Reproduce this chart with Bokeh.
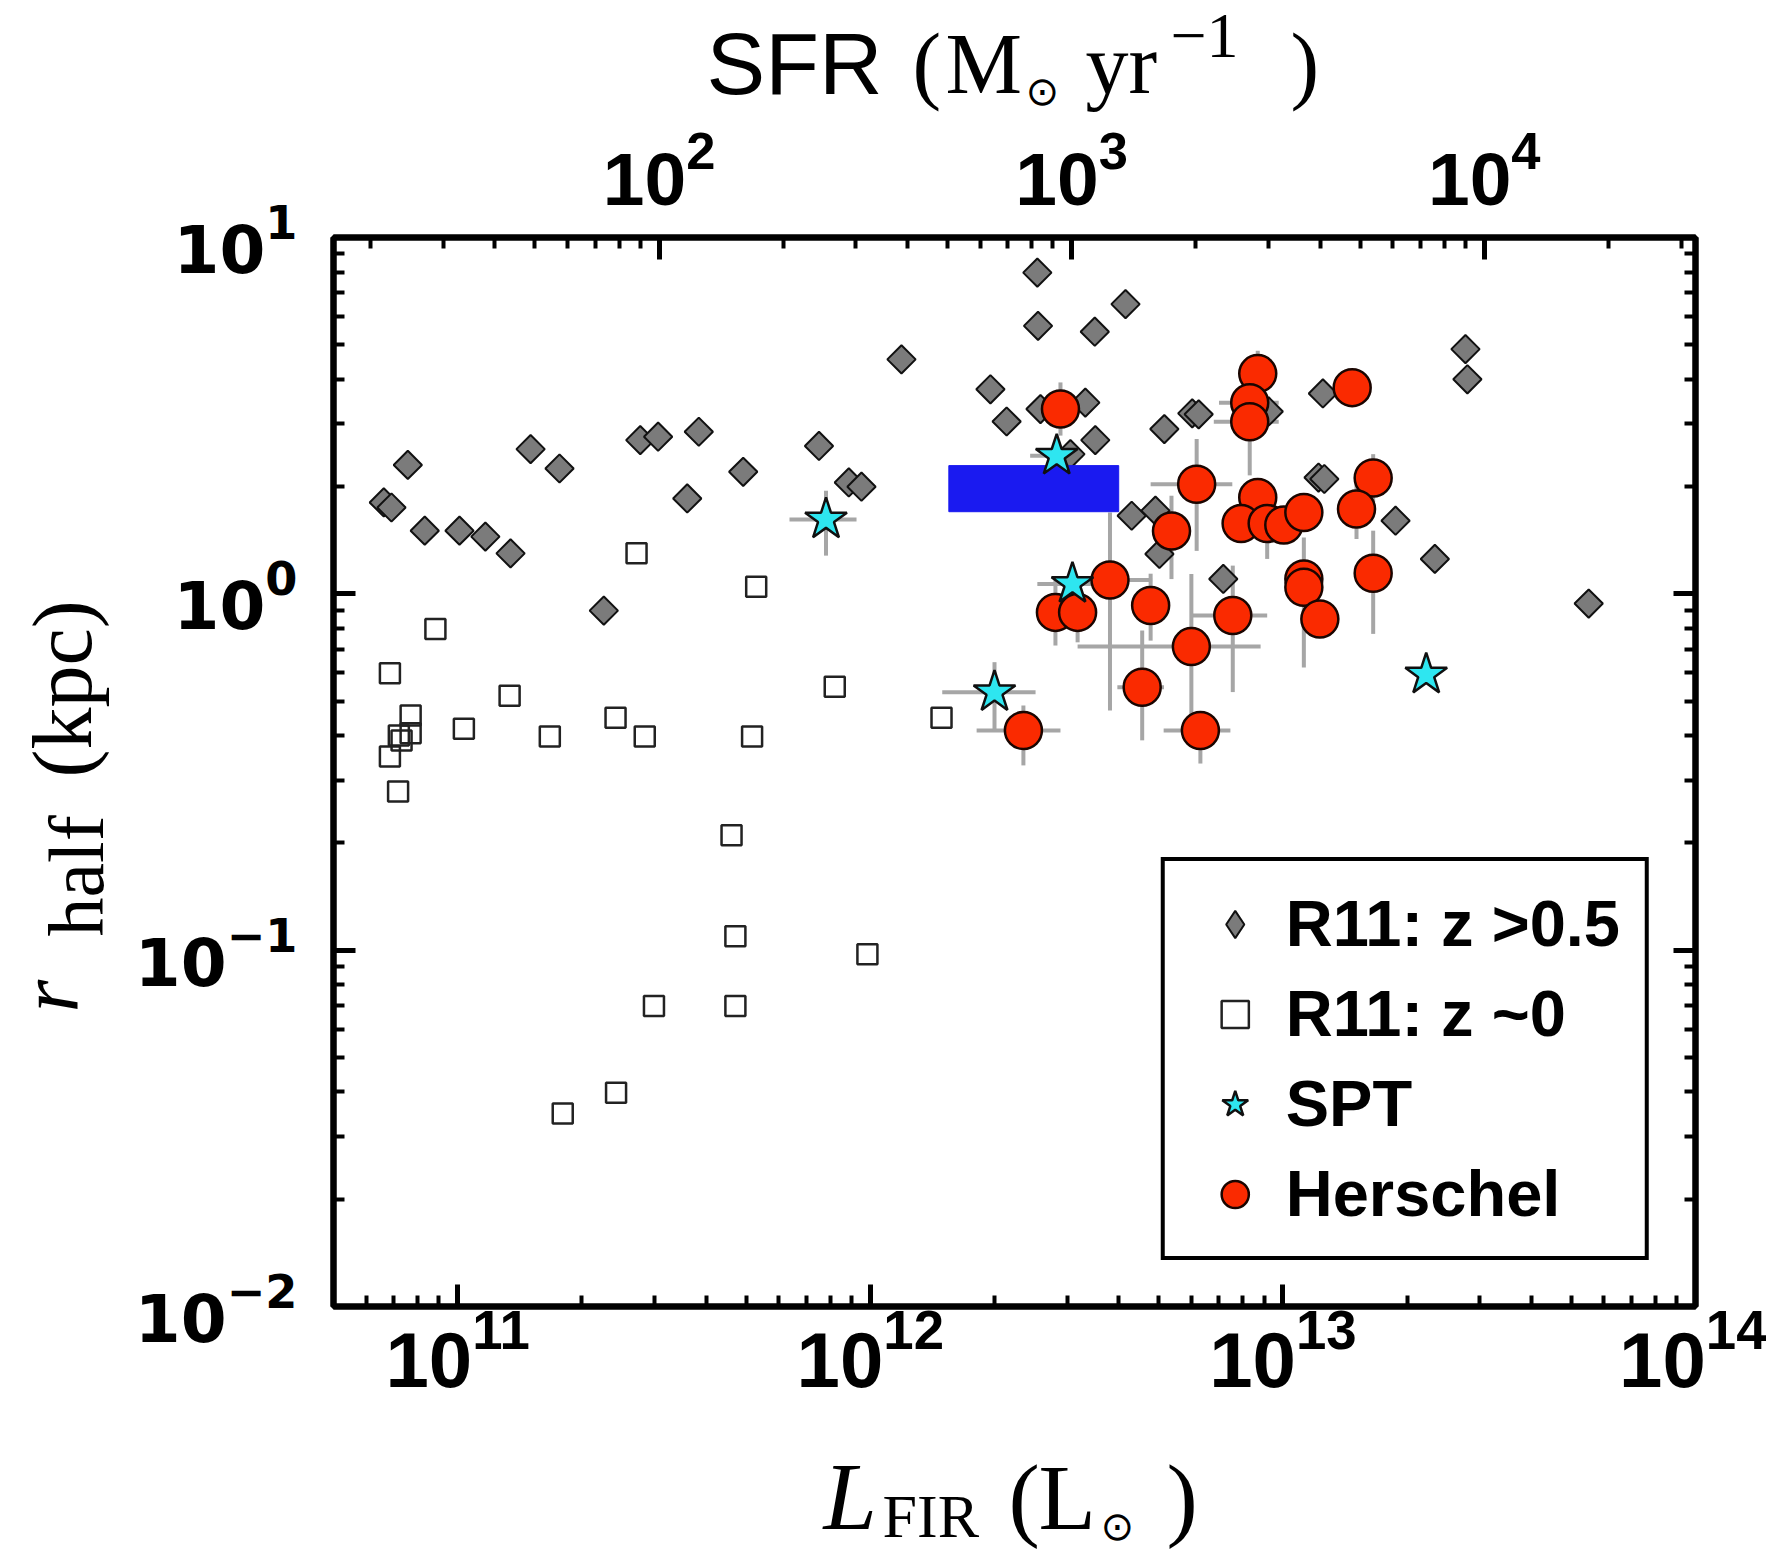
import numpy as np
from bokeh.plotting import figure
from bokeh.layouts import column, row
from bokeh.models import (Range1d, LogAxis, LogScale, LogTicker, Label, Legend, LegendItem,
                          CustomJSTickFormatter)
from bokeh.embed import file_html
from bokeh.resources import INLINE

# ---------------- data ----------------
x_lim = [5e10, 1e14]          # L_FIR (L_sun)
y_lim = [1e-2, 1e1]           # r_half (kpc)
l_per_sfr = 10 ** 9.488       # L_FIR per unit SFR used for the top axis

# R11: z > 0.5 (grey diamonds)
r11_hz_L = [7.57e10, 6.62e10, 6.91e10, 8.32e10, 1.01e11, 1.167e11, 1.343e11, 1.502e11, 1.765e11, 2.26e11,
            2.77e11, 3.06e11, 3.84e11, 3.60e11, 4.92e11, 7.51e11, 8.87e11, 9.52e11, 1.19e12, 1.955e12,
            2.14e12, 2.54e12, 2.55e12, 2.585e12, 3.32e12, 3.50e12, 4.155e12, 3.51e12, 3.055e12, 4.30e12,
            4.91e12, 5.02e12, 5.16e12, 6.03e12, 6.25e12, 7.17e12, 9.24e12, 1.25e13, 1.22e13, 1.26e13,
            1.875e13, 2.335e13, 2.77e13, 2.80e13, 5.51e13]
r11_hz_r = [2.30, 1.805, 1.747, 1.504, 1.504, 1.447, 1.299, 2.548, 2.248, 0.897,
            2.70, 2.76, 2.85, 1.852, 2.20, 2.60, 2.054, 1.998, 4.55, 3.75,
            3.045, 7.97, 5.65, 3.30, 3.44, 5.44, 6.50, 2.70, 2.466, 1.656,
            1.712, 1.294, 2.90, 3.21, 3.19, 1.101, 3.25, 3.65, 2.12, 2.10,
            1.604, 1.253, 4.86, 4.00, 0.939]

# R11: z ~ 0 (open squares)
r11_lz_L = [6.85e10, 7.69e10, 7.69e10, 7.20e10, 7.31e10, 6.85e10, 7.17e10, 8.83e10, 1.035e11, 1.336e11,
            1.672e11, 2.413e11, 2.713e11, 2.84e11, 5.17e11, 5.29e11, 8.20e11, 1.488e12, 4.61e11, 4.71e11,
            2.99e11, 4.71e11, 2.42e11, 1.797e11, 9.84e11]
r11_lz_r = [0.599, 0.4556, 0.4063, 0.4004, 0.3877, 0.3497, 0.279, 0.797, 0.418, 0.518,
            0.398, 0.449, 1.299, 0.398, 0.398, 1.047, 0.549, 0.449, 0.210, 0.1094,
            0.0697, 0.0697, 0.0398, 0.0348, 0.0974]

# SPT (cyan stars) with error ranges
spt_L = [7.81e11, 2.83e12, 3.09e12, 2.0e12, 2.225e13]
spt_r = [1.617, 2.44, 1.066, 0.5296, 0.5935]
spt_L_lo = [6.37e11, 2.44e12, 2.54e12, 1.494e12, 2.225e13]
spt_L_hi = [9.26e11, 3.27e12, 3.75e12, 2.515e12, 2.225e13]
spt_r_lo = [1.28, 2.25, 1.066, 0.4135, 0.5935]
spt_r_hi = [1.947, 2.65, 1.066, 0.643, 0.5935]

# Herschel (red circles) with error ranges
her_L = [2.89e12, 8.69e12, 8.31e12, 8.31e12, 1.472e13, 6.18e12, 5.37e12, 8.69e12, 7.92e12, 9.16e12,
         1.005e13, 1.124e13, 1.655e13, 1.508e13, 1.124e13, 1.124e13, 1.229e13, 1.655e13, 3.81e12, 2.81e12,
         3.18e12, 4.78e12, 7.56e12, 6.0e12, 4.56e12, 6.31e12, 2.35e12]
her_r = [3.30, 4.15, 3.44, 3.04, 3.79, 2.03, 1.50, 1.865, 1.576, 1.576,
         1.56, 1.692, 2.113, 1.73, 1.101, 1.043, 0.850, 1.142, 1.094, 0.887,
         0.887, 0.927, 0.869, 0.711, 0.547, 0.4135, 0.4135]
her_L_lo = [2.89e12, 8.69e12, 7.0e12, 6.8e12, 1.472e13, 4.78e12, 5.37e12, 8.69e12, 7.92e12, 9.16e12,
            1.005e13, 1.124e13, 1.655e13, 1.508e13, 1.124e13, 1.124e13, 1.229e13, 1.655e13, 3.0e12, 2.81e12,
            3.18e12, 4.78e12, 6.03e12, 3.18e12, 3.97e12, 5.14e12, 1.81e12]
her_L_hi = [2.89e12, 8.69e12, 9.77e12, 9.77e12, 1.472e13, 7.54e12, 5.37e12, 8.69e12, 7.92e12, 9.16e12,
            1.005e13, 1.124e13, 1.655e13, 1.508e13, 1.124e13, 1.124e13, 1.229e13, 1.655e13, 4.82e12, 2.81e12,
            3.18e12, 4.78e12, 9.16e12, 8.83e12, 5.15e12, 7.46e12, 2.89e12]
her_r_lo = [2.78, 3.58, 3.44, 2.15, 3.79, 1.32, 1.10, 1.865, 1.576, 1.253,
            1.56, 1.692, 1.81, 1.425, 0.621, 1.043, 0.850, 0.772, 0.4706, 0.716,
            0.731, 0.739, 0.53, 0.388, 0.388, 0.334, 0.33]
her_r_hi = [3.92, 4.81, 3.44, 4.31, 3.79, 2.72, 1.885, 1.865, 1.576, 1.985,
            1.56, 1.692, 2.466, 2.1, 1.438, 1.043, 0.850, 1.504, 1.692, 1.10,
            1.08, 1.139, 1.2, 1.137, 0.789, 0.4655, 0.486]

# blue box region
box_L = [1.55e12, 4.0e12]
box_r = [1.70, 2.29]

legend_labels = ["R11: z >0.5", "R11: z ~0", "SPT", "Herschel"]

# ---------------- layout sizes (pixels) ----------------
W, H = 1766, 1551
TOP_H, BOT_H, LEFT_W = 118, 120, 125
MAIN_W, MAIN_H = W - LEFT_W, H - TOP_H - BOT_H
FR_L, FR_R, FR_T, FR_B = 333, 1695, 237, 1306   # plot frame edges on the page

# ---------------- main figure ----------------
p = figure(width=MAIN_W, height=MAIN_H, x_axis_type="log", y_axis_type="log",
           x_range=Range1d(*x_lim), y_range=Range1d(*y_lim),
           output_backend="svg", toolbar_location=None,
           min_border_left=FR_L - LEFT_W, min_border_right=W - FR_R,
           min_border_top=FR_T - TOP_H, min_border_bottom=TOP_H + MAIN_H - FR_B,
           background_fill_color="white", border_fill_color="white")
p.xgrid.visible = False
p.ygrid.visible = False
p.outline_line_color = "black"
p.outline_line_width = 6

p.extra_x_ranges = {"sfr": Range1d(x_lim[0] / l_per_sfr, x_lim[1] / l_per_sfr)}
p.extra_x_scales = {"sfr": LogScale()}

bottom = p.xaxis[0]
left = p.yaxis[0]
bottom.ticker = LogTicker(num_minor_ticks=10)
left.ticker = LogTicker(num_minor_ticks=10)
top = LogAxis(x_range_name="sfr", ticker=LogTicker(num_minor_ticks=10))
right = LogAxis(ticker=LogTicker(num_minor_ticks=10))
right.formatter = CustomJSTickFormatter(code="return ''")
p.add_layout(top, "above")
p.add_layout(right, "right")

for ax in (bottom, left, top, right):
    ax.major_tick_in = 22
    ax.major_tick_out = 0
    ax.minor_tick_in = 11
    ax.minor_tick_out = 0
    ax.major_tick_line_width = 5
    ax.minor_tick_line_width = 4
    ax.axis_line_width = 6
    ax.major_tick_line_color = "black"
    ax.minor_tick_line_color = "black"
    ax.major_label_text_color = "black"
    ax.major_label_text_font_style = "bold"

bottom.major_label_text_font = "Liberation Sans"
bottom.major_label_text_font_size = "78px"
bottom.major_label_standoff = 0
top.major_label_text_font = "Liberation Sans"
top.major_label_text_font_size = "75px"
top.major_label_standoff = 33
left.major_label_text_font = "DejaVu Sans"
left.major_label_text_font_size = "66px"
left.major_label_standoff = 36

# ---------------- glyphs ----------------
err_kw = dict(line_color="#a6a6a6", line_width=4)
p.segment(x0=her_L_lo, y0=her_r, x1=her_L_hi, y1=her_r, **err_kw)
p.segment(x0=her_L, y0=her_r_lo, x1=her_L, y1=her_r_hi, **err_kw)
p.segment(x0=spt_L_lo, y0=spt_r, x1=spt_L_hi, y1=spt_r, **err_kw)
p.segment(x0=spt_L, y0=spt_r_lo, x1=spt_L, y1=spt_r_hi, **err_kw)

hz_style = dict(fill_color="#7b7b7b", line_color="#111111", line_width=2)
r_hz = p.scatter(r11_hz_L, r11_hz_r, marker="square", angle=np.pi / 4, size=20, **hz_style)
r_lz = p.scatter(r11_lz_L, r11_lz_r, marker="square", size=20,
                 fill_alpha=0, line_color="#222222", line_width=2.5)
p.quad(left=[box_L[0]], right=[box_L[1]], bottom=[box_r[0]], top=[box_r[1]],
       fill_color="#1a1af0", line_color="#1a1af0")
r_her = p.scatter(her_L, her_r, marker="circle", size=37,
                  fill_color="#fa2a00", line_color="#1a0500", line_width=2.5)
r_spt = p.scatter(spt_L, spt_r, marker="star", size=44,
                  fill_color="#2ee6f0", line_color="#101010", line_width=2.5)
# hidden twin of the diamonds, only used for the legend swatch (legend glyphs are drawn unrotated)
r_hz_key = p.scatter(r11_hz_L, r11_hz_r, marker="diamond", size=20, visible=False, **hz_style)

legend = Legend(items=[LegendItem(label=legend_labels[0], renderers=[r_hz_key]),
                       LegendItem(label=legend_labels[1], renderers=[r_lz]),
                       LegendItem(label=legend_labels[2], renderers=[r_spt]),
                       LegendItem(label=legend_labels[3], renderers=[r_her])],
                location="bottom_right", margin=46, padding=25, spacing=15,
                glyph_width=90, glyph_height=68, label_standoff=6,
                label_text_font="Liberation Sans", label_text_font_style="bold",
                label_text_font_size="65px", label_text_color="black",
                border_line_color="black", border_line_width=4, border_line_alpha=1.0,
                background_fill_color="white", background_fill_alpha=1.0,
                inactive_fill_alpha=0.0, click_policy="none")
p.add_layout(legend)


# ---------------- axis titles (composed text in title strips) ----------------
def strip(w, h, xr, yr, **borders):
    f = figure(width=w, height=h, x_range=Range1d(*xr), y_range=Range1d(*yr),
               output_backend="svg", toolbar_location=None, min_border=0,
               x_axis_location=None, y_axis_location=None,
               background_fill_color="white", border_fill_color="white", **borders)
    f.outline_line_color = None
    f.xgrid.visible = False
    f.ygrid.visible = False
    return f


def lab(f, x, y, text, size, font="Liberation Serif", style="normal", rot=False):
    # (x, y): page position of the text's baseline start
    d = 0.39 * size
    if rot:
        x -= d
    else:
        y -= d
    f.add_layout(Label(x=x, y=y, text=text, text_font=font, text_font_size=f"{size}px",
                       text_font_style=style, angle=(np.pi / 2 if rot else 0.0),
                       text_align="left", text_baseline="alphabetic", text_color="black"))


# top strip: page coordinates x in [FR_L, FR_R], y in [0, TOP_H]
ft = strip(W, TOP_H, (FR_L, FR_R), (TOP_H, 0), min_border_left=FR_L, min_border_right=W - FR_R)
lab(ft, 706, 97, "SFR", 88, font="Liberation Sans")
lab(ft, 912, 97, "(", 86)
lab(ft, 945, 97, "M", 86)
lab(ft, 1025, 106, "\u2299", 40, font="DejaVu Sans")
lab(ft, 1085, 97, "yr", 86)
lab(ft, 1170, 60, "\u22121", 64)
lab(ft, 1290, 97, ")", 86)

# bottom strip: page coordinates y in [H - BOT_H, H]
fb = strip(W, BOT_H, (FR_L, FR_R), (H, H - BOT_H), min_border_left=FR_L, min_border_right=W - FR_R)
lab(fb, 823, 1533, "L", 96, style="italic")
lab(fb, 882, 1540, "FIR", 62)
lab(fb, 1008, 1533, "(", 94)
lab(fb, 1038, 1533, "L", 94)
lab(fb, 1100, 1541, "\u2299", 40, font="DejaVu Sans")
lab(fb, 1166, 1533, ")", 94)

# left strip: page coordinates x in [0, LEFT_W], y in [FR_T, FR_B]
fl = strip(LEFT_W, MAIN_H, (0, LEFT_W), (FR_B, FR_T),
           min_border_top=FR_T - TOP_H, min_border_bottom=TOP_H + MAIN_H - FR_B)
lab(fl, 82, 1012, "r", 84, style="italic", rot=True)
lab(fl, 106, 936, "half", 78, rot=True)
lab(fl, 95, 777, "(kpc)", 84, rot=True)

layout = column(ft, row(fl, p), fb)
open("out.html", "w").write(file_html(layout, INLINE))
